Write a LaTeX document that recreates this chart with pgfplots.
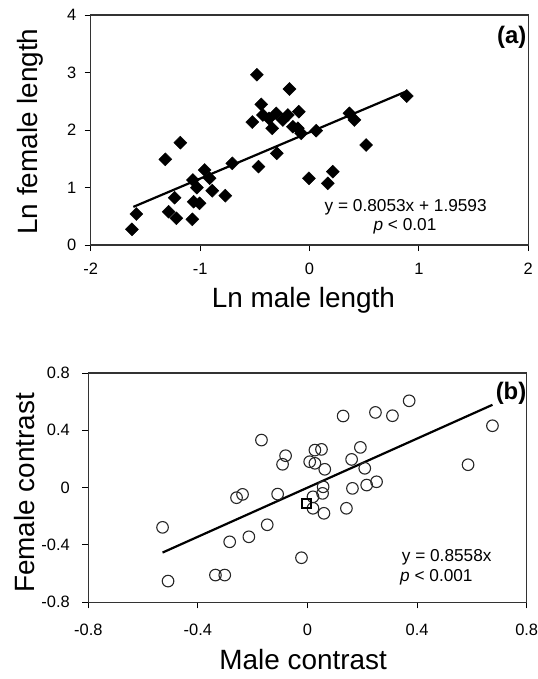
\documentclass[border=0pt]{standalone}
\usepackage{fontspec}
\setmainfont{Liberation Sans}
\usepackage{pgfplots}
\pgfplotsset{compat=1.18}

% panel (a): log lengths, filled diamonds
\pgfplotstableread{
x y
-1.623 0.273
-1.583 0.539
-1.288 0.579
-1.217 0.464
-1.071 0.447
-1.233 0.823
-1.318 1.490
-1.181 1.779
-1.059 0.753
-1.005 0.725
-1.066 1.130
-1.029 0.997
-0.959 1.304
-0.913 1.160
-0.889 0.944
-0.770 0.857
-0.706 1.421
-0.466 1.362
-0.523 2.139
-0.481 2.962
-0.441 2.447
-0.426 2.261
-0.341 2.030
-0.299 1.595
-0.304 2.290
-0.244 2.174
-0.183 2.713
-0.198 2.261
-0.098 2.318
-0.107 2.030
-0.076 1.943
-0.152 2.058
-0.370 2.200
-0.005 1.160
0.061 1.988
0.365 2.290
0.411 2.174
0.518 1.739
0.213 1.275
0.167 1.073
0.889 2.591
}\lengthdata

% panel (b): contrasts, open circles
\pgfplotstableread{
x y
-0.168 0.332
-0.080 0.223
-0.091 0.163
0.008 0.181
0.027 0.262
-0.259 -0.070
-0.237 -0.047
-0.109 -0.045
-0.529 -0.277
-0.284 -0.378
-0.214 -0.343
-0.147 -0.259
-0.509 -0.652
-0.336 -0.610
-0.302 -0.610
-0.022 -0.489
0.130 0.500
0.248 0.525
0.310 0.502
0.371 0.606
0.675 0.432
0.586 0.160
0.051 0.267
0.027 0.170
0.063 0.128
0.161 0.197
0.193 0.281
0.209 0.135
0.216 0.018
0.252 0.041
0.164 -0.005
0.142 -0.144
0.057 0.006
0.055 -0.040
0.020 -0.064
0.020 -0.144
0.060 -0.179
}\contrastdata

\pgfplotsset{
  every tick label/.append style={font=\fontsize{16.5}{18}\selectfont},
  every axis label/.append style={font=\fontsize{28}{32}\selectfont},
  panel/.style={
    scale only axis, clip=false,
    axis line style={black!80, line width=1.3bp},
    tick align=outside, tick pos=left, major tick length=6bp,
    every tick/.style={black, line width=1bp},
  },
}

\begin{document}
\begin{tikzpicture}
\path[use as bounding box] (0bp,0bp) rectangle (538bp,-679bp);

\begin{axis}[panel,
  at={(90.7bp,-15bp)}, anchor=north west,
  width=437.6bp, height=230bp,
  xmin=-2, xmax=2, ymin=0, ymax=4,
  xtick={-2,-1,0,1,2}, ytick={0,1,2,3,4},
  xticklabel style={yshift=-9bp},
  yticklabel style={xshift=-5bp},
  xlabel={Ln male length}, ylabel={Ln female length},
  xlabel style={at={(axis description cs:0.486,-0.27)}, anchor=base},
  ylabel style={at={(axis description cs:-0.1227,0.493)}, anchor=base},
  /pgf/number format/assume math mode=true,
]
\addplot[black, line width=2.2bp] coordinates {(-1.61,0.663) (0.89,2.676)};
\addplot[only marks, mark=square*, mark size=4.6bp,
  mark options={rotate=45, fill=black, draw=black}] table {\lengthdata};
\end{axis}

\begin{axis}[panel,
  at={(88.3bp,-373bp)}, anchor=north west,
  width=438.4bp, height=229.3bp,
  xmin=-0.8, xmax=0.8, ymin=-0.8, ymax=0.8,
  xtick={-0.8,-0.4,0,0.4,0.8}, ytick={-0.8,-0.4,0,0.4,0.8},
  xticklabel style={yshift=-12bp},
  yticklabel style={xshift=-9bp},
  xlabel={Male contrast}, ylabel={Female contrast},
  xlabel style={at={(axis description cs:0.49,-0.295)}, anchor=base},
  ylabel style={at={(axis description cs:-0.1216,0.477)}, anchor=base},
  /pgf/number format/assume math mode=true,
]
\addplot[black, line width=2.2bp] coordinates {(-0.529,-0.453) (0.675,0.578)};
\addplot[only marks, mark=o, mark size=5.8bp,
  mark options={line width=1.1bp, black!85}] table {\contrastdata};
\addplot[only marks, mark=square, mark size=4.5bp,
  mark options={line width=2bp, black}] coordinates {(-0.004,-0.110)};
\end{axis}

\node[anchor=base, inner sep=0pt, font=\fontsize{17.3}{20}\selectfont]
  at (405.7bp,-211.7bp) {y = 0.8053x + 1.9593};
\node[anchor=base, inner sep=0pt, font=\fontsize{17.3}{20}\selectfont]
  at (405bp,-230bp) {{\itshape p} < 0.01};
\node[anchor=base west, inner sep=0pt, font=\fontsize{17.3}{20}\selectfont]
  at (401.7bp,-561.7bp) {y = 0.8558x};
\node[anchor=base west, inner sep=0pt, font=\fontsize{17.3}{20}\selectfont]
  at (400bp,-581.7bp) {{\itshape p} < 0.001};
\node[anchor=base east, inner sep=0pt, font=\bfseries\fontsize{24}{28}\selectfont]
  at (526.5bp,-43bp) {(a)};
\node[anchor=base east, inner sep=0pt, font=\bfseries\fontsize{24}{28}\selectfont]
  at (526.5bp,-399bp) {(b)};
\end{tikzpicture}
\end{document}
